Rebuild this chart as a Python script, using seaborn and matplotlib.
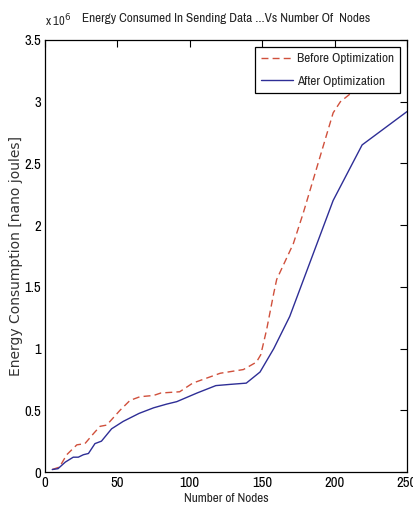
import matplotlib
matplotlib.use("Agg")
import matplotlib.pyplot as plt
import seaborn as sns
import pandas as pd

# ---- data (energy in units of 1e6 nano joules) ----
nodes_before = [5, 10, 15, 22, 27.6, 33.4, 38, 42.6, 51.8, 58.7, 65.6, 75, 80, 93,
                102, 121, 137, 146, 149, 153, 158, 160, 171.5, 178.4, 199, 204, 220, 240]
energy_before = [0.02, 0.04, 0.14, 0.22, 0.23, 0.31, 0.37, 0.38, 0.50, 0.58, 0.61, 0.62, 0.64, 0.65,
                 0.72, 0.80, 0.83, 0.89, 0.95, 1.15, 1.45, 1.56, 1.85, 2.10, 2.91, 3.00, 3.15, 3.30]
nodes_after = [5, 9, 14, 19.5, 23, 26.5, 30, 34.5, 39, 46, 54, 65, 75, 84, 91,
               105, 118, 128, 139, 148.5, 158, 169, 199, 219, 250]
energy_after = [0.02, 0.027, 0.08, 0.12, 0.12, 0.14, 0.15, 0.23, 0.25, 0.35, 0.41, 0.475, 0.52, 0.55, 0.57,
                0.64, 0.70, 0.71, 0.72, 0.81, 1.00, 1.26, 2.20, 2.65, 2.92]
series_names = ["Before Optimization", "After Optimization"]
x_ticks = [0, 50, 100, 150, 200, 250]
y_ticks = [0, 0.5, 1, 1.5, 2, 2.5, 3, 3.5]
y_tick_labels = ["0", "0.5", "1", "1.5", "2", "2.5", "3", "3.5"]

sns.set_style("white")
narrow = ["Archivo Narrow", "Roboto Condensed", "Liberation Sans", "DejaVu Sans"]
plt.rcParams["font.family"] = narrow

df_b = pd.DataFrame({"x": nodes_before, "y": energy_before, "s": series_names[0]})
df_a = pd.DataFrame({"x": nodes_after, "y": energy_after, "s": series_names[1]})

fig = plt.figure(figsize=(4.14, 5.16), dpi=100)
ax = fig.add_axes([45 / 414, 44 / 516, 362 / 414, 432 / 516])

sns.lineplot(data=df_b, x="x", y="y", ax=ax, color="#d0503c", linestyle=(0, (5, 3)),
             linewidth=1.0, sort=False, estimator=None, label=series_names[0])
sns.lineplot(data=df_a, x="x", y="y", ax=ax, color="#2e2e96", linestyle="-",
             linewidth=1.0, sort=False, estimator=None, label=series_names[1])

ax.set_xlim(0, 250)
ax.set_ylim(0, 3.5)
ax.set_xticks(x_ticks)
ax.set_yticks(y_ticks)
ax.set_yticklabels(y_tick_labels)
ax.tick_params(direction="in", length=5, width=0.8, top=True, right=True,
               labelsize=10.5, colors="black", pad=3)
for sp in ax.spines.values():
    sp.set_color("black")
    sp.set_linewidth(0.9)
    sp.set_visible(True)

ax.set_xlabel("Number of Nodes", fontsize=9.5, labelpad=2)
ax.set_ylabel("Energy Consumption [nano joules]", fontsize=10,
              family=["DejaVu Sans"], color="#333333")
ax.yaxis.set_label_coords(-0.06, 0.5)
ax.set_title("Energy Consumed In Sending Data ...Vs Number Of  Nodes", fontsize=9.5, pad=13)
ax.text(0.0, 1.025, r"x 10$^{6}$", transform=ax.transAxes, fontsize=9, ha="left", va="bottom")

leg = ax.legend(loc="upper right", frameon=True, fancybox=False, framealpha=1,
                edgecolor="black", fontsize=9.5, handlelength=2.4, borderaxespad=0.5,
                borderpad=0.5, labelspacing=0.85, handletextpad=0.3)
leg.get_frame().set_linewidth(0.9)
leg.set_zorder(10)

fig.savefig("out.png", dpi=100)
